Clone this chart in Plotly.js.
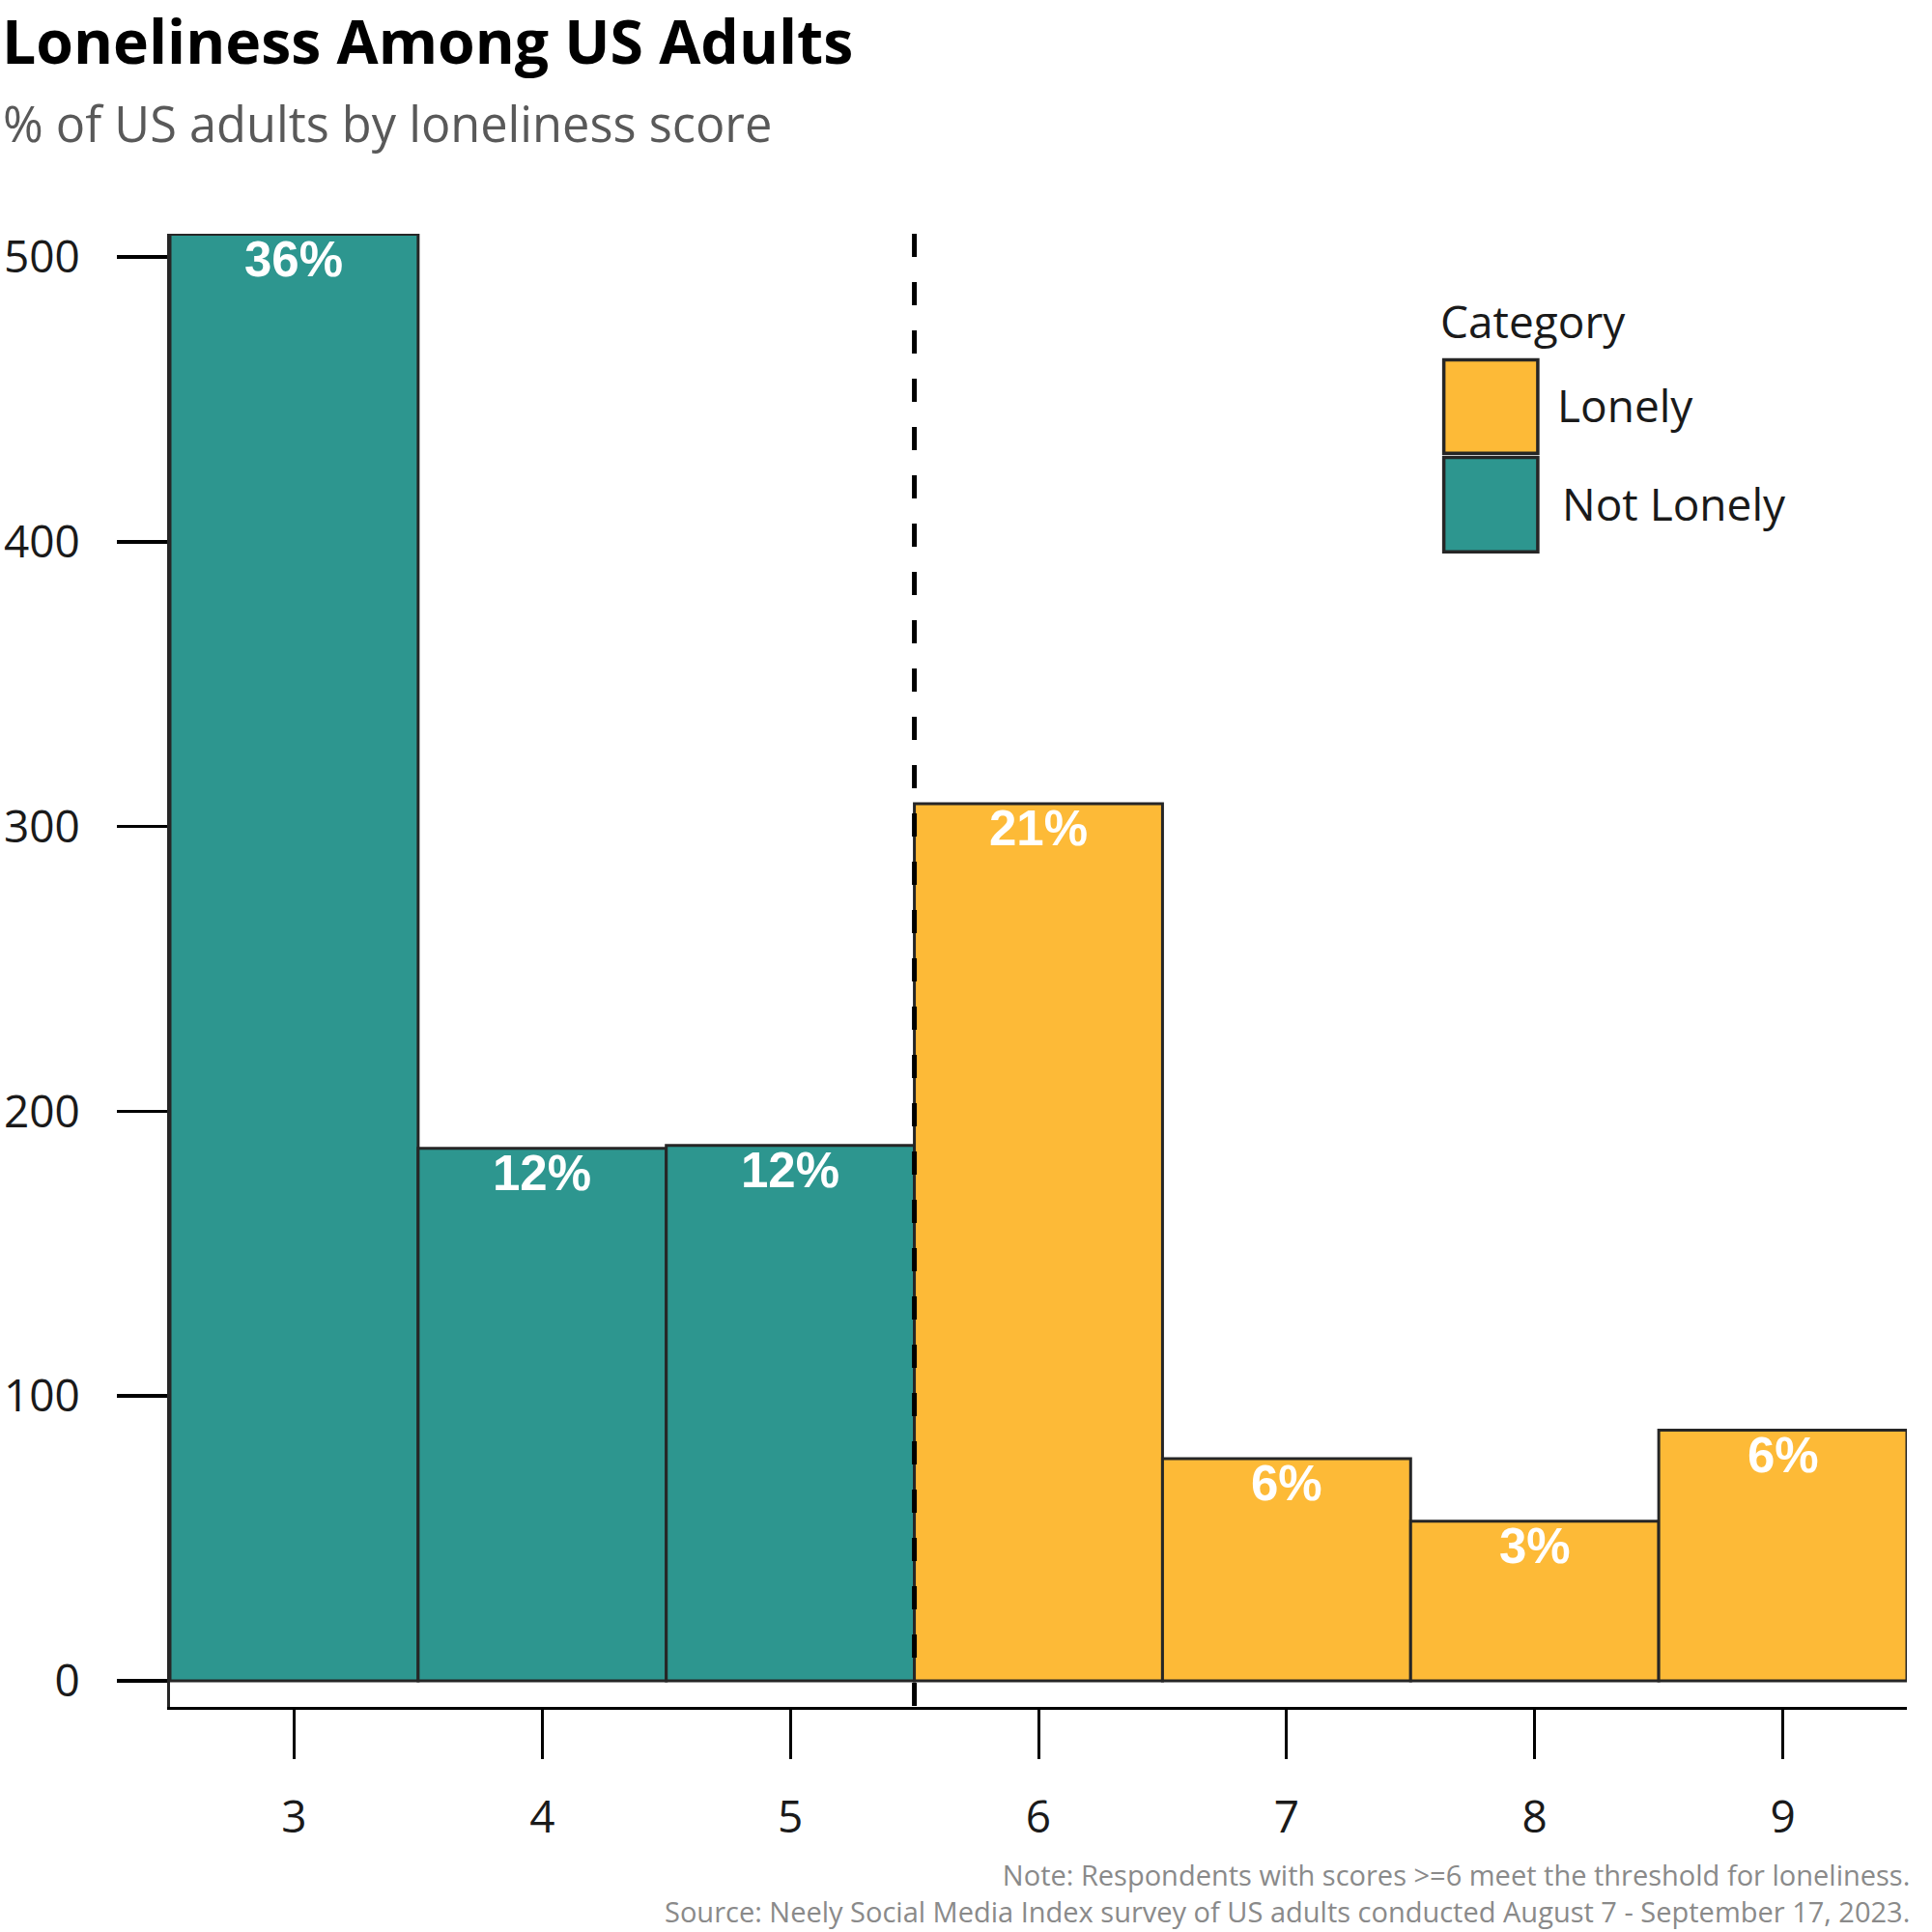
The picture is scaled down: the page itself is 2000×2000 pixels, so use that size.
<!DOCTYPE html>
<html>
<head>
<meta charset="utf-8">
<script src="https://cdn.plot.ly/plotly-3.0.1.min.js"></script>
<style>
  html, body { margin: 0; padding: 0; background: #ffffff; }
  #chart { width: 2000px; height: 2000px; }
</style>
</head>
<body>
<div id="chart"></div>
<script>
// ---- Data ----
const scores = [3, 4, 5, 6, 7, 8, 9];
const counts = [508, 187, 188, 308, 78, 56, 88];
const pctLabels = ['36%', '12%', '12%', '21%', '6%', '3%', '6%'];
const categories = ['Not Lonely', 'Not Lonely', 'Not Lonely', 'Lonely', 'Lonely', 'Lonely', 'Lonely'];
const seriesNames = ['Lonely', 'Not Lonely'];
const seriesColors = { 'Lonely': '#FDBA37', 'Not Lonely': '#2D968F' };
const threshold = 5.5;
const yTicks = [0, 100, 200, 300, 400, 500];
const titleText = 'Loneliness Among US Adults';
const subtitleText = '% of US adults by loneliness score';
const legendTitle = 'Category';
const noteLine1 = 'Note: Respondents with scores >=6 meet the threshold for loneliness.';
const noteLine2 = 'Source: Neely Social Media Index survey of US adults conducted August 7 - September 17, 2023.';

// ---- Layout geometry (pixels) ----
const W = 2000, H = 2000;
const M = { l: 176, r: 25.5, t: 241.7, b: 233.3 };
const plotW = W - M.l - M.r, plotH = H - M.t - M.b;
const px2x = p => (p - M.l) / plotW;
const px2y = p => (H - M.b - p) / plotH;

const outline = '#262626';

const traces = ['Not Lonely', 'Lonely'].map(name => {
  const idx = categories.map((c, i) => c === name ? i : -1).filter(i => i >= 0);
  return {
    type: 'bar',
    name: name,
    x: idx.map(i => scores[i]),
    y: idx.map(i => counts[i]),
    width: idx.map(() => 1),
    marker: { color: seriesColors[name], line: { color: outline, width: 3 } },
    hoverinfo: 'x+y',
    showlegend: false
  };
});

// custom legend
const boxL = 1495, boxR = 1592.3;
const boxes = [[372.3, 469], [473.3, 571]];
const legendLabelPos = [[1610, 418.9], [1615, 520.5]];

const shapes = [
  {
    type: 'line', xref: 'x', yref: 'paper',
    x0: threshold, x1: threshold, y0: 1, y1: 0,
    line: { color: '#000000', width: 5, dash: '24px,26px' },
    layer: 'above'
  }
];
seriesNames.forEach((name, k) => {
  shapes.push({
    type: 'rect', xref: 'paper', yref: 'paper',
    x0: px2x(boxL), x1: px2x(boxR),
    y0: px2y(boxes[k][1]), y1: px2y(boxes[k][0]),
    fillcolor: seriesColors[name],
    line: { color: outline, width: 3.5 },
    layer: 'above'
  });
});

const annFont = { family: 'Open Sans, sans-serif', size: 46, color: '#1a1a1a' };
const annotations = [
  {
    text: subtitleText, xref: 'paper', yref: 'paper',
    x: px2x(1), y: px2y(127.6), xanchor: 'left', yanchor: 'middle',
    showarrow: false, font: { family: 'Open Sans, sans-serif', size: 50.5, color: '#595959' }
  },
  {
    text: legendTitle, xref: 'paper', yref: 'paper',
    x: px2x(1489), y: px2y(332), xanchor: 'left', yanchor: 'middle',
    showarrow: false, font: annFont
  },
  {
    text: noteLine1 + '<br>' + noteLine2, xref: 'paper', yref: 'paper',
    x: px2x(1980), y: px2y(2000), xanchor: 'right', yanchor: 'bottom', align: 'right',
    showarrow: false, font: { family: 'Open Sans, sans-serif', size: 29, color: '#8a8a8a' }
  }
];
seriesNames.forEach((name, k) => {
  annotations.push({
    text: name, xref: 'paper', yref: 'paper',
    x: px2x(legendLabelPos[k][0]), y: px2y(legendLabelPos[k][1]),
    xanchor: 'left', yanchor: 'middle', showarrow: false, font: annFont
  });
});
// bar value labels, anchored to each bar's top through the axes
scores.forEach((s, i) => {
  annotations.push({
    text: '<b>' + pctLabels[i] + '</b>', xref: 'x', yref: 'y',
    x: s, y: counts[i], xanchor: 'center', yanchor: 'top', yshift: 5,
    showarrow: false,
    font: { family: 'Liberation Sans, Arial, sans-serif', size: 51, color: '#ffffff' }
  });
});

const layout = {
  width: W, height: H,
  margin: M,
  paper_bgcolor: '#ffffff',
  plot_bgcolor: '#ffffff',
  barmode: 'overlay',
  showlegend: false,
  title: {
    text: '<b>' + titleText + '</b>',
    xref: 'container', yref: 'container',
    x: 0.001, xanchor: 'left',
    y: 1 - 66 / H, yanchor: 'bottom',
    font: { family: 'Open Sans, sans-serif', size: 62.5, color: '#000000' }
  },
  xaxis: {
    range: [2.5, 9.5],
    tickmode: 'array', tickvals: scores, ticktext: scores.map(String),
    ticks: 'outside', ticklen: 51, tickwidth: 3, tickcolor: '#000000',
    showline: true, linewidth: 3, linecolor: '#000000',
    showgrid: false, zeroline: false,
    tickfont: { family: 'Open Sans, sans-serif', size: 46, color: '#1a1a1a' },
    ticklabelstandoff: 21,
    fixedrange: true
  },
  yaxis: {
    range: [-9.2, 508.2],
    tickmode: 'array', tickvals: yTicks, ticktext: yTicks.map(String),
    ticks: 'outside', ticklen: 52, tickwidth: 3.5, tickcolor: '#000000',
    showline: true, linewidth: 3, linecolor: outline,
    showgrid: false, zeroline: false,
    tickfont: { family: 'Open Sans, sans-serif', size: 46, color: '#1a1a1a' },
    ticklabelstandoff: 29,
    fixedrange: true
  },
  shapes: shapes,
  annotations: annotations
};

Plotly.newPlot('chart', traces, layout, { displayModeBar: false, staticPlot: true });
</script>
</body>
</html>
